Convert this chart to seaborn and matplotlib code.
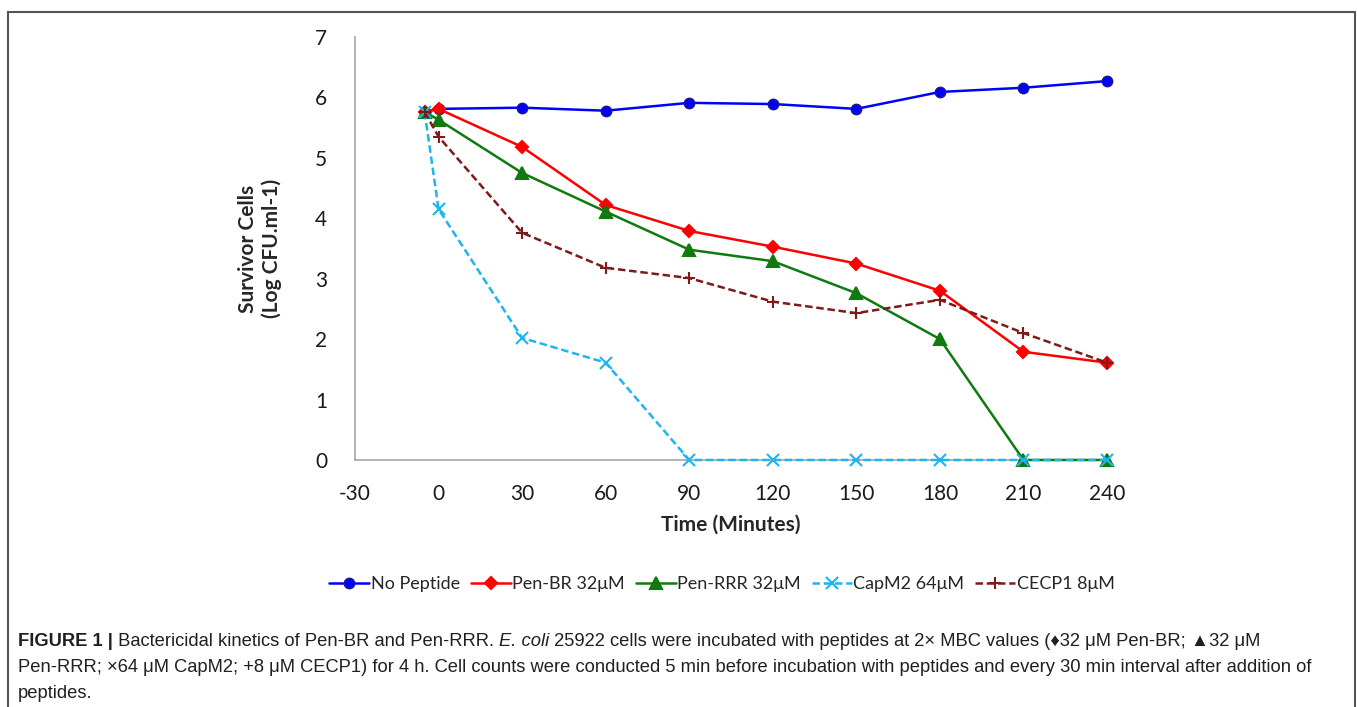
import matplotlib
matplotlib.use("Agg")
import matplotlib.pyplot as plt
import seaborn as sns
import pandas as pd
from matplotlib.patches import Rectangle

# time points (minutes), -5 = count before adding peptide
time_min = [-5, 0, 30, 60, 90, 120, 150, 180, 210, 240]

no_peptide = [5.76, 5.81, 5.83, 5.78, 5.91, 5.89, 5.81, 6.09, 6.16, 6.27]
pen_br = [5.76, 5.81, 5.18, 4.22, 3.79, 3.53, 3.25, 2.80, 1.79, 1.61]
pen_rrr = [5.76, 5.63, 4.75, 4.11, 3.48, 3.29, 2.76, 2.00, 0.0, 0.0]
capm2 = [5.76, 4.15, 2.02, 1.61, 0.0, 0.0, 0.0, 0.0, 0.0, 0.0]
cecp1 = [5.76, 5.35, 3.76, 3.18, 3.01, 2.62, 2.43, 2.65, 2.10, 1.61]

series_names = ['No Peptide', 'Pen-BR 32μM', 'Pen-RRR 32μM', 'CapM2 64μM', 'CECP1 8μM']
x_ticks = [-30, 0, 30, 60, 90, 120, 150, 180, 210, 240]
y_ticks = [0, 1, 2, 3, 4, 5, 6, 7]

colors = ['#0000ff', '#ff0000', '#0f7a0f', '#1eb4ee', '#7f1a1a']
markers = ['o', 'D', '^', 'x', '+']
msizes = [7.5, 6, 8, 8, 9]
dashes = ['', '', '', (3, 1.5), (3, 1.5)]

rows = []
for name, vals in zip(series_names, [no_peptide, pen_br, pen_rrr, capm2, cecp1]):
    for t, v in zip(time_min, vals):
        rows.append({'Time': t, 'Log CFU': v, 'Series': name})
df = pd.DataFrame(rows)

sns.set_style('white')
plt.rcParams['font.family'] = ['Lato', 'DejaVu Sans']
plt.rcParams['axes.unicode_minus'] = False

fig = plt.figure(figsize=(13.57, 7.07), dpi=100)
ax = fig.add_axes([0.2616, 0.3494, 0.5542, 0.5983])

for i, name in enumerate(series_names):
    sub = df[df['Series'] == name]
    sns.lineplot(data=sub, x='Time', y='Log CFU', ax=ax, color=colors[i],
                 marker=markers[i], markersize=msizes[i], linewidth=1.8,
                 markeredgecolor=('#1a1a80' if i == 0 else colors[i]),
                 markeredgewidth=(1.0 if i == 0 else 1.5),
                 label=name, clip_on=False, zorder=3 + i)
    if dashes[i]:
        ax.lines[-1].set_dashes(dashes[i])

ax.set_xlim(-30, 240)
ax.set_ylim(0, 7)
ax.set_xticks(x_ticks)
ax.set_yticks(y_ticks)
ax.tick_params(axis='both', length=0, labelsize=15, colors='#1a1a1a')
ax.tick_params(axis='x', pad=17)
ax.tick_params(axis='y', pad=20)
for s in ['top', 'right']:
    ax.spines[s].set_visible(False)
for s in ['left', 'bottom']:
    ax.spines[s].set_color('#a6a6a6')
    ax.spines[s].set_linewidth(1.2)

ax.set_xlabel('Time (Minutes)', fontsize=15, fontweight='bold', labelpad=8)
ax.set_ylabel('Survivor Cells\n(Log CFU.ml-1)', fontsize=15, fontweight='bold', labelpad=24)

leg = ax.legend(loc='center', bbox_to_anchor=(0.488, -0.293), ncol=5, frameon=False,
                fontsize=13, handlelength=2.2, handletextpad=0.1, columnspacing=0.6)

# figure border
fig.patches.append(Rectangle((8 / 1357, -0.05), 1347 / 1357, 1 - 12 / 707 + 0.05,
                             transform=fig.transFigure, fill=False,
                             edgecolor='#555555', linewidth=1.5))

# caption with mixed styles
cap_font = ['Liberation Sans', 'DejaVu Sans']
cap_size = 13.2
lines = [
    [('FIGURE 1 |', 'bold', 'normal'),
     (' Bactericidal kinetics of Pen-BR and Pen-RRR. ', 'normal', 'normal'),
     ('E. coli', 'normal', 'italic'),
     (' 25922 cells were incubated with peptides at 2× MBC values (♦32 μM Pen-BR; ▲32 μM', 'normal', 'normal')],
    [('Pen-RRR; ×64 μM CapM2; +8 μM CECP1) for 4 h. Cell counts were conducted 5 min before incubation with peptides and every 30 min interval after addition of', 'normal', 'normal')],
    [('peptides.', 'normal', 'normal')],
]
renderer = fig.canvas.get_renderer()
y_px = [641, 667, 693]
for line, yp in zip(lines, y_px):
    x_px = 18
    for txt, weight, style in line:
        t = fig.text(x_px / 1357, 1 - yp / 707, txt, fontsize=cap_size, family=cap_font,
                     fontweight=weight, fontstyle=style, va='center', ha='left', color='#231f20')
        bb = t.get_window_extent(renderer=renderer)
        x_px += bb.width

fig.savefig('out.png', dpi=100)
